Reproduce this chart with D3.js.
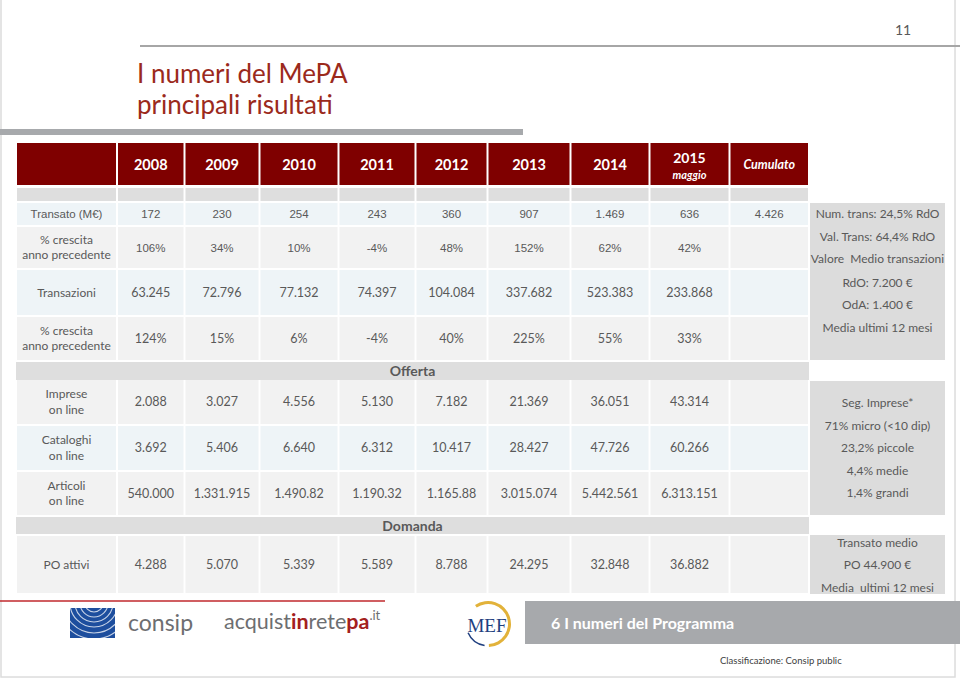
<!DOCTYPE html>
<html><head><meta charset="utf-8">
<script src="https://cdn.jsdelivr.net/npm/d3@7"></script>
<style>body{margin:0;background:#fff}svg{display:block}</style>
</head><body>
<svg id="c" width="960" height="679"></svg>
<script>
// ---------- DATA ----------
const years = ["2008","2009","2010","2011","2012","2013","2014","2015","Cumulato"];
const transato = ["172","230","254","243","360","907","1.469","636","4.426"];
const crescitaTransato = ["106%","34%","10%","-4%","48%","152%","62%","42%",""];
const transazioni = ["63.245","72.796","77.132","74.397","104.084","337.682","523.383","233.868",""];
const crescitaTransazioni = ["124%","15%","6%","-4%","40%","225%","55%","33%",""];
const imprese = ["2.088","3.027","4.556","5.130","7.182","21.369","36.051","43.314",""];
const cataloghi = ["3.692","5.406","6.640","6.312","10.417","28.427","47.726","60.266",""];
const articoli = ["540.000","1.331.915","1.490.82","1.190.32","1.165.88","3.015.074","5.442.561","6.313.151",""];
const poAttivi = ["4.288","5.070","5.339","5.589","8.788","24.295","32.848","36.882",""];
const noteTransato = ["Num. trans: 24,5% RdO","Val. Trans: 64,4% RdO","Valore  Medio transazioni","RdO: 7.200 €","OdA: 1.400 €","Media ultimi 12 mesi"];
const noteImprese = ["Seg. Imprese*","71% micro (<10 dip)","23,2% piccole","4,4% medie","1,4% grandi"];
const notePO = ["Transato medio","PO 44.900 €","Media  ultimi 12 mesi"];

// ---------- LAYOUT ----------
const svg = d3.select("#c");
const CAL = "Lato, 'Open Sans', sans-serif";
const ARI = "'Liberation Sans', Arial, sans-serif";
const TXT = "#595959";
const colKeys = ["label"].concat(years);
const edges = [16,117,184.5,259.5,338.5,415.5,487.5,570.5,649.5,729.5,809];
const xL = d3.scaleOrdinal().domain(colKeys).range(edges.slice(0,-1));
const xR = d3.scaleOrdinal().domain(colKeys).range(edges.slice(1));
const xC = k => (xL(k)+xR(k))/2;

// frame
svg.append("rect").attr("x",1).attr("y",-2).attr("width",954).attr("height",679).attr("fill","none").attr("stroke","#dcdcdc").attr("stroke-width",1.5);

// page number and top rule
svg.append("text").attr("x",903).attr("y",35).attr("text-anchor","middle").attr("font-family",CAL).attr("font-size",14).attr("fill",TXT).text("11");
svg.append("line").attr("x1",140).attr("x2",960).attr("y1",46).attr("y2",46).attr("stroke","#a6a6a6").attr("stroke-width",2);
// title
svg.append("text").attr("x",137).attr("y",83).attr("font-family",CAL).attr("font-size",26).attr("fill","#9b2a1c").text("I numeri del MePA");
svg.append("text").attr("x",137).attr("y",114).attr("font-family",CAL).attr("font-size",26).attr("fill","#9b2a1c").text("principali risultati");
svg.append("rect").attr("x",0).attr("y",129).attr("width",523).attr("height",6).attr("fill","#a7a9ac");

// header
const hdr = svg.append("g");
colKeys.forEach(k=>{
  hdr.append("rect").attr("x",xL(k)+1).attr("y",143).attr("width",xR(k)-xL(k)-2).attr("height",42).attr("fill","#7f0000");
  hdr.append("rect").attr("x",xL(k)+1).attr("y",188).attr("width",xR(k)-xL(k)-2).attr("height",13).attr("fill","#dedede");
});
years.forEach(y=>{
  if(y==="2015"){
    hdr.append("text").attr("x",xC(y)).attr("y",163).attr("text-anchor","middle").attr("font-family",CAL).attr("font-weight","bold").attr("font-size",14).attr("fill","#fff").text(y);
    hdr.append("text").attr("x",xC(y)).attr("y",179).attr("text-anchor","middle").attr("font-family",CAL).attr("font-weight","bold").attr("font-style","italic").attr("font-size",11).attr("fill","#fff").text("maggio");
  } else if(y==="Cumulato"){
    hdr.append("text").attr("x",xC(y)).attr("y",169).attr("text-anchor","middle").attr("font-family",CAL).attr("font-weight","bold").attr("font-style","italic").attr("font-size",12.5).attr("fill","#fff").text(y);
  } else {
    hdr.append("text").attr("x",xC(y)).attr("y",170).attr("text-anchor","middle").attr("font-family",CAL).attr("font-weight","bold").attr("font-size",14.5).attr("fill","#fff").text(y);
  }
});

const BLUE="#eef4f7", GREY="#f2f2f2";
const rows = [
  {y0:203,y1:225,bg:BLUE,label:["Transato (M€)"],vals:transato,font:ARI,lf:ARI},
  {y0:227,y1:268,bg:GREY,label:["% crescita","anno precedente"],vals:crescitaTransato,font:ARI,lf:CAL},
  {y0:270,y1:315,bg:BLUE,label:["Transazioni"],vals:transazioni,font:CAL,lf:CAL},
  {y0:317,y1:360,bg:GREY,label:["% crescita","anno precedente"],vals:crescitaTransazioni,font:CAL,lf:CAL},
  {y0:380,y1:424,bg:GREY,label:["Imprese","on line"],vals:imprese,font:CAL,lf:CAL},
  {y0:426,y1:470,bg:BLUE,label:["Cataloghi","on line"],vals:cataloghi,font:CAL,lf:CAL},
  {y0:472,y1:515,bg:GREY,label:["Articoli","on line"],vals:articoli,font:CAL,lf:CAL},
  {y0:536,y1:593,bg:GREY,label:["PO attivi"],vals:poAttivi,font:CAL,lf:CAL}
];
const body = svg.append("g");
rows.forEach(r=>{
  const cy=(r.y0+r.y1)/2;
  colKeys.forEach(k=>{
    body.append("rect").attr("x",xL(k)+1).attr("y",r.y0).attr("width",xR(k)-xL(k)-2).attr("height",r.y1-r.y0).attr("fill",r.bg);
  });
  const n=r.label.length;
  r.label.forEach((t,i)=>{
    body.append("text").attr("x",xC("label")).attr("y",cy+(i-(n-1)/2)*15.5).attr("dy","0.35em")
      .attr("text-anchor","middle").attr("font-family",r.lf).attr("font-size",r.lf===ARI?11.5:12).attr("fill",TXT).text(t);
  });
  body.selectAll(null).data(r.vals).enter().append("text")
    .attr("x",(d,i)=>xC(years[i])).attr("y",cy).attr("dy","0.35em")
    .attr("text-anchor","middle").attr("font-family",r.font).attr("font-size",r.font===ARI?11.5:12.5).attr("fill",TXT).text(d=>d);
});
// section bands
[[362,380,"Offerta",371],[517,534,"Domanda",526]].forEach(b=>{
  body.append("rect").attr("x",16).attr("y",b[0]).attr("width",793).attr("height",b[1]-b[0]).attr("fill","#dedede");
  body.append("text").attr("x",412.5).attr("y",b[3]).attr("dy","0.35em").attr("text-anchor","middle").attr("font-family",CAL).attr("font-weight","bold").attr("font-size",14).attr("fill",TXT).text(b[2]);
});

// note boxes
function note(y0,y1,lines,ys,fam){
  svg.append("rect").attr("x",810).attr("y",y0).attr("width",135).attr("height",y1-y0).attr("fill","#dcdcdc");
  lines.forEach((t,i)=>svg.append("text").attr("x",877.5).attr("y",ys[i]).attr("dy","0.35em").attr("text-anchor","middle")
    .attr("font-family",fam).attr("font-size",12).attr("fill",TXT).style("white-space","pre").attr("xml:space","preserve").text(t));
}
note(203,360,noteTransato,[214,237,259,283,305,328],CAL);
note(381,515,noteImprese,[403,426,448,471,493],CAL);
note(535,594,notePO,[543,565,588],CAL);

// footer
svg.append("line").attr("x1",0).attr("x2",385).attr("y1",601).attr("y2",601).attr("stroke","#c0282d").attr("stroke-width",1.5);
const lg = svg.append("g");
lg.append("clipPath").attr("id","cl").append("rect").attr("x",70).attr("y",608).attr("width",45).attr("height",30);
lg.append("rect").attr("x",70).attr("y",608).attr("width",45).attr("height",30).attr("fill","#1d4e9e");
const arcs = lg.append("g").attr("clip-path","url(#cl)");
[4,9,14,19,24,30,36].forEach(rr=>arcs.append("circle").attr("cx",94).attr("cy",603).attr("r",rr).attr("fill","none").attr("stroke","#fff").attr("stroke-opacity",0.75).attr("stroke-width",1.1));
lg.append("text").attr("x",128).attr("y",631).attr("font-family",CAL).attr("font-size",23).attr("fill","#6d6e71").text("consip");
const aq = lg.append("text").attr("x",224).attr("y",629).attr("font-family",CAL).attr("font-size",21.5).attr("fill","#6d6e71");
aq.append("tspan").text("acquist");
aq.append("tspan").attr("fill","#a3201e").attr("font-weight","bold").text("in");
aq.append("tspan").text("rete");
aq.append("tspan").attr("fill","#a3201e").attr("font-weight","bold").text("pa");
aq.append("tspan").attr("font-size",13).attr("dy",-9).text(".it");
// MEF
lg.append("path").attr("d",d3.arc()({innerRadius:20,outerRadius:23,startAngle:-0.6,endAngle:3.1})).attr("transform","translate(488,624)").attr("fill","#e2b23a");
lg.append("path").attr("d",d3.arc()({innerRadius:21,outerRadius:22.5,startAngle:3.3,endAngle:4.3})).attr("transform","translate(488,624)").attr("fill","#1f3f7f");
lg.append("text").attr("x",487).attr("y",632).attr("text-anchor","middle").attr("font-family","'Liberation Serif', serif").attr("font-size",19).attr("fill","#1f3f7f").text("MEF");
svg.append("rect").attr("x",525).attr("y",601).attr("width",435).attr("height",43).attr("fill","#a7a9ac");
svg.append("text").attr("x",551).attr("y",629).attr("font-family",CAL).attr("font-weight","bold").attr("font-size",16).attr("fill","#fff").text("6 I numeri del Programma");
svg.append("text").attr("x",720).attr("y",664).attr("font-family",CAL).attr("font-size",9.5).attr("fill","#404040").text("Classificazione: Consip public");
</script>
</body></html>
